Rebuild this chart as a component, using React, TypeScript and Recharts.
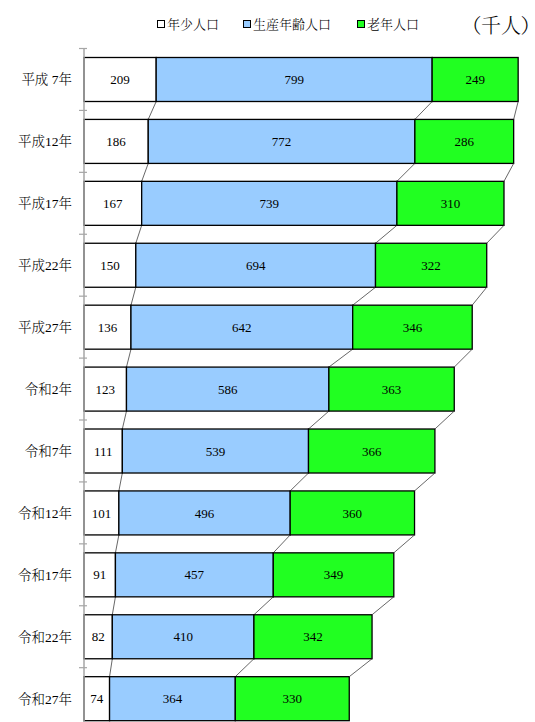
import { Bar, BarChart, LabelList, XAxis, YAxis } from "recharts";

const years = [
  "平成 7年",
  "平成12年",
  "平成17年",
  "平成22年",
  "平成27年",
  "令和2年",
  "令和7年",
  "令和12年",
  "令和17年",
  "令和22年",
  "令和27年",
];
const youth = [209, 186, 167, 150, 136, 123, 111, 101, 91, 82, 74];
const working = [799, 772, 739, 694, 642, 586, 539, 496, 457, 410, 364];
const elderly = [249, 286, 310, 322, 346, 363, 366, 360, 349, 342, 330];

const FONT = "'Liberation Serif', 'Noto Serif CJK JP', 'Noto Sans CJK JP', serif";

const series = [
  { key: "youth", name: "年少人口", color: "#ffffff" },
  { key: "working", name: "生産年齢人口", color: "#99ccff" },
  { key: "elderly", name: "老年人口", color: "#21ff21" },
];

const data = years.map((year, i) => ({
  year,
  youth: youth[i],
  working: working[i],
  elderly: elderly[i],
}));

// right edges of the previous bar in each series, for the connector lines
const seen: Record<string, { right: number; bottom: number }[]> = {};

function connectorShape(key: string) {
  return (props: any) => {
    const { x, y, width, height, fill, index } = props;
    if (!seen[key]) seen[key] = [];
    seen[key][index] = { right: x + width, bottom: y + height };
    const prev = index > 0 ? seen[key][index - 1] : undefined;
    return (
      <g>
        <rect x={x} y={y} width={width} height={height} fill={fill} stroke="#000" strokeWidth={1.3} />
        {prev && (
          <line x1={prev.right} y1={prev.bottom} x2={x + width} y2={y} stroke="#404040" strokeWidth={0.8} />
        )}
      </g>
    );
  };
}

function YearTick(props: any) {
  const { x, y, payload, index, visibleTicksCount } = props;
  const half = payload?.offset || 31;
  const last = index === visibleTicksCount - 1;
  return (
    <g>
      <line x1={x - 5} x2={x + 3} y1={y - half} y2={y - half} stroke="#a6a6a6" strokeWidth={1.2} />
      {last && <line x1={x - 5} x2={x + 3} y1={y + half} y2={y + half} stroke="#a6a6a6" strokeWidth={1.2} />}
      <text
        x={x - 12}
        y={y}
        dy={5}
        textAnchor="end"
        fontSize={13.5}
        fontWeight={300}
        fontFamily={FONT}
        fill="#000"
      >
        {payload.value}
      </text>
    </g>
  );
}

function LegendBox() {
  return (
    <div
      style={{
        position: "absolute",
        top: 16,
        left: 0,
        width: 535,
        fontFamily: FONT,
        fontSize: 13,
        fontWeight: 300,
        color: "#000",
      }}
    >
      {series.map((s, i) => (
        <span
          key={s.key}
          style={{ position: "absolute", left: [157, 243, 357][i], top: 0, whiteSpace: "nowrap", lineHeight: "18px" }}
        >
          <span
            style={{
              display: "inline-block",
              width: 6,
              height: 6,
              background: s.color,
              border: "1.3px solid #000",
              marginRight: 2,
              verticalAlign: "1px",
            }}
          />
          {s.name}
        </span>
      ))}
      <span
        style={{
          position: "absolute",
          left: 471,
          top: -6,
          fontSize: 20,
          whiteSpace: "nowrap",
          fontFeatureSettings: '"palt"',
        }}
      >
        （千人）
      </span>
    </div>
  );
}

export default function App() {
  return (
    <div style={{ position: "absolute", left: 0, top: 0, width: 535, height: 722, overflow: "hidden", background: "#fff" }}>
      <LegendBox />
      <BarChart
        width={535}
        height={740}
        data={data}
        layout="vertical"
        barSize={44}
        margin={{ top: 48.5, right: 2, bottom: 10.4, left: 0 }}
      >
        <XAxis type="number" domain={[0, 1300]} hide />
        <YAxis
          type="category"
          dataKey="year"
          width={84}
          axisLine={{ stroke: "#a6a6a6", strokeWidth: 1.5 }}
          tickLine={false}
          tickSize={0}
          tickMargin={0}
          tick={<YearTick />}
          interval={0}
        />
        {series.map((s) => (
          <Bar
            key={s.key}
            dataKey={s.key}
            name={s.name}
            stackId="pop"
            fill={s.color}
            shape={connectorShape(s.key)}
            isAnimationActive={false}
          >
            <LabelList dataKey={s.key} position="center" fill="#000" fontSize={13} fontFamily={FONT} />
          </Bar>
        ))}
      </BarChart>
    </div>
  );
}
